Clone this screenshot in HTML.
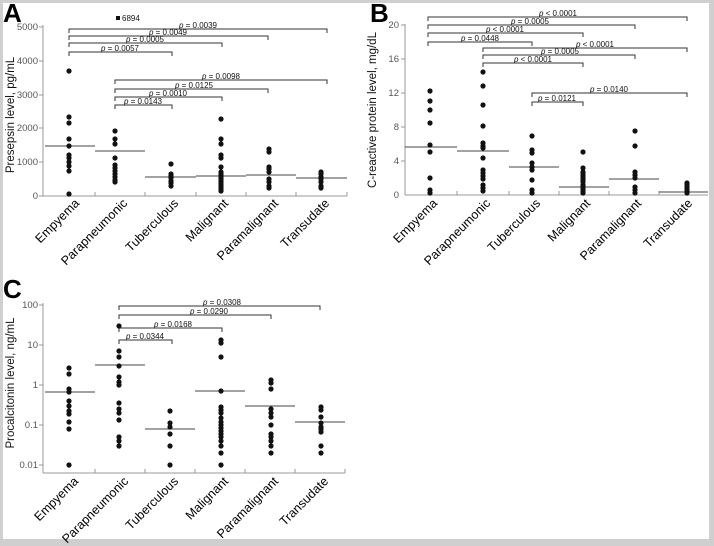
<!DOCTYPE html>
<html><head><meta charset="utf-8"><style>
html,body{margin:0;padding:0;background:#cfcfcf;}
svg{display:block;}
text{font-family:"Liberation Sans",sans-serif;}
.t{font-size:9.5px;fill:#555;}
.c{font-size:12.5px;fill:#000;}
.p{font-size:8px;fill:#111;text-anchor:middle;}
.yl{font-size:11.5px;fill:#111;text-anchor:middle;}
.L{font-size:26px;font-weight:bold;fill:#000;}
</style></head><body>
<svg width="714" height="546" viewBox="0 0 714 546" xmlns="http://www.w3.org/2000/svg">
<rect x="0" y="0" width="714" height="546" fill="#cfcfcf"/>
<rect x="3" y="3" width="706" height="536" fill="#fff"/>

<!-- ============ PANEL A ============ -->
<text class="L" x="3" y="22">A</text>
<g stroke="#999" stroke-width="1" fill="none">
<line x1="43" y1="25" x2="43" y2="196"/>
<line x1="43" y1="196" x2="347" y2="196"/>
<line x1="39" y1="27" x2="43" y2="27"/><line x1="39" y1="61" x2="43" y2="61"/><line x1="39" y1="95" x2="43" y2="95"/><line x1="39" y1="128" x2="43" y2="128"/><line x1="39" y1="162" x2="43" y2="162"/><line x1="39" y1="196" x2="43" y2="196"/>
<line x1="95" y1="192" x2="95" y2="196"/><line x1="145" y1="192" x2="145" y2="196"/><line x1="196" y1="192" x2="196" y2="196"/><line x1="246" y1="192" x2="246" y2="196"/><line x1="296" y1="192" x2="296" y2="196"/><line x1="347" y1="192" x2="347" y2="196"/>
</g>
<g class="t" text-anchor="end">
<text x="38" y="30">5000</text><text x="38" y="64">4000</text><text x="38" y="98">3000</text><text x="38" y="131">2000</text><text x="38" y="165">1000</text><text x="38" y="199">0</text>
</g>
<text class="yl" transform="translate(14,115) rotate(-90)">Presepsin level, pg/mL</text>
<g stroke="#333" stroke-width="1" fill="none">
<polyline points="69,33 69,29 327,29 327,33"/>
<polyline points="69,40 69,36 268,36 268,40"/>
<polyline points="69,47 69,43 222,43 222,47"/>
<polyline points="69,56 69,52 172,52 172,56"/>
<polyline points="115,84 115,80 327,80 327,84"/>
<polyline points="115,93 115,89 268,89 268,93"/>
<polyline points="115,101 115,97 222,97 222,101"/>
<polyline points="115,109 115,105 172,105 172,109"/>
</g>
<g class="p">
<text x="198" y="28"><tspan font-style="italic">p</tspan> = 0.0039</text>
<text x="168" y="35"><tspan font-style="italic">p</tspan> = 0.0049</text>
<text x="145" y="42"><tspan font-style="italic">p</tspan> = 0.0005</text>
<text x="120" y="51"><tspan font-style="italic">p</tspan> = 0.0057</text>
<text x="221" y="79"><tspan font-style="italic">p</tspan> = 0.0098</text>
<text x="194" y="88"><tspan font-style="italic">p</tspan> = 0.0125</text>
<text x="168" y="96"><tspan font-style="italic">p</tspan> = 0.0010</text>
<text x="143" y="104"><tspan font-style="italic">p</tspan> = 0.0143</text>
</g>
<rect x="116" y="16" width="4" height="4" fill="#111"/>
<text x="122" y="21" style="font-size:8px;fill:#111">6894</text>
<g stroke="#444" stroke-width="1">
<line x1="45" y1="146" x2="95" y2="146"/><line x1="95" y1="151" x2="145" y2="151"/><line x1="145" y1="177" x2="196" y2="177"/><line x1="196" y1="176" x2="246" y2="176"/><line x1="246" y1="175" x2="296" y2="175"/><line x1="296" y1="178" x2="347" y2="178"/>
</g>
<g fill="#111">
<circle cx="69" cy="71" r="2.6"/><circle cx="69" cy="117" r="2.6"/><circle cx="69" cy="123" r="2.6"/><circle cx="69" cy="139" r="2.6"/><circle cx="69" cy="146" r="2.6"/><circle cx="69" cy="155" r="2.6"/><circle cx="69" cy="158" r="2.6"/><circle cx="69" cy="162" r="2.6"/><circle cx="69" cy="166" r="2.6"/><circle cx="69" cy="171" r="2.6"/><circle cx="69" cy="194" r="2.6"/>
<circle cx="115" cy="131" r="2.6"/><circle cx="115" cy="139" r="2.6"/><circle cx="115" cy="144" r="2.6"/><circle cx="115" cy="158" r="2.6"/><circle cx="115" cy="165" r="2.6"/><circle cx="115" cy="168" r="2.6"/><circle cx="115" cy="171" r="2.6"/><circle cx="115" cy="174" r="2.6"/><circle cx="115" cy="177" r="2.6"/><circle cx="115" cy="180" r="2.6"/><circle cx="115" cy="182" r="2.6"/>
<circle cx="171" cy="164" r="2.6"/><circle cx="171" cy="174" r="2.6"/><circle cx="171" cy="176" r="2.6"/><circle cx="171" cy="178" r="2.6"/><circle cx="171" cy="181" r="2.6"/><circle cx="171" cy="183" r="2.6"/><circle cx="171" cy="186" r="2.6"/>
<circle cx="221" cy="119" r="2.6"/><circle cx="221" cy="139" r="2.6"/><circle cx="221" cy="144" r="2.6"/><circle cx="221" cy="155" r="2.6"/><circle cx="221" cy="158" r="2.6"/><circle cx="221" cy="167" r="2.6"/><circle cx="221" cy="172" r="2.6"/><circle cx="221" cy="174" r="2.6"/><circle cx="221" cy="176" r="2.6"/><circle cx="221" cy="178" r="2.6"/><circle cx="221" cy="180" r="2.6"/><circle cx="221" cy="182" r="2.6"/><circle cx="221" cy="184" r="2.6"/><circle cx="221" cy="186" r="2.6"/><circle cx="221" cy="188" r="2.6"/><circle cx="221" cy="190" r="2.6"/><circle cx="221" cy="191" r="2.6"/>
<circle cx="269" cy="149" r="2.6"/><circle cx="269" cy="152" r="2.6"/><circle cx="269" cy="167" r="2.6"/><circle cx="269" cy="169" r="2.6"/><circle cx="269" cy="172" r="2.6"/><circle cx="269" cy="179" r="2.6"/><circle cx="269" cy="182" r="2.6"/><circle cx="269" cy="186" r="2.6"/><circle cx="269" cy="188" r="2.6"/>
<circle cx="321" cy="172" r="2.6"/><circle cx="321" cy="174" r="2.6"/><circle cx="321" cy="177" r="2.6"/><circle cx="321" cy="179" r="2.6"/><circle cx="321" cy="182" r="2.6"/><circle cx="321" cy="186" r="2.6"/><circle cx="321" cy="188" r="2.6"/>
</g>
<g class="c" text-anchor="end">
<text transform="translate(80,204) rotate(-45)">Empyema</text>
<text transform="translate(128,204) rotate(-45)">Parapneumonic</text>
<text transform="translate(179,204) rotate(-45)">Tuberculous</text>
<text transform="translate(229,204) rotate(-45)">Malignant</text>
<text transform="translate(279,204) rotate(-45)">Paramalignant</text>
<text transform="translate(330,204) rotate(-45)">Transudate</text>
</g>

<!-- ============ PANEL B ============ -->
<text class="L" x="370" y="22">B</text>
<g stroke="#999" stroke-width="1" fill="none">
<line x1="405" y1="24" x2="405" y2="195"/>
<line x1="405" y1="195" x2="708" y2="195"/>
<line x1="401" y1="25" x2="405" y2="25"/><line x1="401" y1="59" x2="405" y2="59"/><line x1="401" y1="93" x2="405" y2="93"/><line x1="401" y1="127" x2="405" y2="127"/><line x1="401" y1="161" x2="405" y2="161"/>
<line x1="457" y1="191" x2="457" y2="195"/><line x1="509" y1="191" x2="509" y2="195"/><line x1="559" y1="191" x2="559" y2="195"/><line x1="609" y1="191" x2="609" y2="195"/><line x1="659" y1="191" x2="659" y2="195"/>
</g>
<g class="t" text-anchor="end">
<text x="399" y="28">20</text><text x="399" y="62">16</text><text x="399" y="96">12</text><text x="399" y="130">8</text><text x="399" y="164">4</text><text x="399" y="198">0</text>
</g>
<text class="yl" transform="translate(376,110) rotate(-90)">C-reactive protein  level, mg/dL</text>
<g stroke="#333" stroke-width="1" fill="none">
<polyline points="428,21 428,17 687,17 687,21"/>
<polyline points="428,29 428,25 635,25 635,29"/>
<polyline points="428,37 428,33 583,33 583,37"/>
<polyline points="428,46 428,42 532,42 532,46"/>
<polyline points="483,52 483,48 687,48 687,52"/>
<polyline points="483,59 483,55 635,55 635,59"/>
<polyline points="483,67 483,63 583,63 583,67"/>
<polyline points="532,97 532,93 687,93 687,97"/>
<polyline points="532,106 532,102 583,102 583,106"/>
</g>
<g class="p">
<text x="558" y="16"><tspan font-style="italic">p</tspan> &lt; 0.0001</text>
<text x="530" y="24"><tspan font-style="italic">p</tspan> = 0.0005</text>
<text x="505" y="32"><tspan font-style="italic">p</tspan> &lt; 0.0001</text>
<text x="480" y="41"><tspan font-style="italic">p</tspan> = 0.0448</text>
<text x="595" y="47"><tspan font-style="italic">p</tspan> &lt; 0.0001</text>
<text x="560" y="54"><tspan font-style="italic">p</tspan> = 0.0005</text>
<text x="533" y="62"><tspan font-style="italic">p</tspan> &lt; 0.0001</text>
<text x="609" y="92"><tspan font-style="italic">p</tspan> = 0.0140</text>
<text x="557" y="101"><tspan font-style="italic">p</tspan> = 0.0121</text>
</g>
<g stroke="#444" stroke-width="1">
<line x1="405" y1="147" x2="457" y2="147"/><line x1="457" y1="151" x2="509" y2="151"/><line x1="509" y1="167" x2="559" y2="167"/><line x1="559" y1="187" x2="609" y2="187"/><line x1="609" y1="179" x2="659" y2="179"/><line x1="659" y1="192" x2="708" y2="192"/>
</g>
<g fill="#111">
<circle cx="430" cy="91" r="2.6"/><circle cx="430" cy="101" r="2.6"/><circle cx="430" cy="110" r="2.6"/><circle cx="430" cy="123" r="2.6"/><circle cx="430" cy="145" r="2.6"/><circle cx="430" cy="152" r="2.6"/><circle cx="430" cy="178" r="2.6"/><circle cx="430" cy="190" r="2.6"/><circle cx="430" cy="193" r="2.6"/>
<circle cx="483" cy="72" r="2.6"/><circle cx="483" cy="86" r="2.6"/><circle cx="483" cy="105" r="2.6"/><circle cx="483" cy="126" r="2.6"/><circle cx="483" cy="143" r="2.6"/><circle cx="483" cy="146" r="2.6"/><circle cx="483" cy="148" r="2.6"/><circle cx="483" cy="158" r="2.6"/><circle cx="483" cy="170" r="2.6"/><circle cx="483" cy="173" r="2.6"/><circle cx="483" cy="176" r="2.6"/><circle cx="483" cy="179" r="2.6"/><circle cx="483" cy="185" r="2.6"/><circle cx="483" cy="188" r="2.6"/><circle cx="483" cy="191" r="2.6"/>
<circle cx="532" cy="136" r="2.6"/><circle cx="532" cy="150" r="2.6"/><circle cx="532" cy="153" r="2.6"/><circle cx="532" cy="163" r="2.6"/><circle cx="532" cy="167" r="2.6"/><circle cx="532" cy="170" r="2.6"/><circle cx="532" cy="180" r="2.6"/><circle cx="532" cy="190" r="2.6"/><circle cx="532" cy="193" r="2.6"/>
<circle cx="583" cy="152" r="2.6"/><circle cx="583" cy="168" r="2.6"/><circle cx="583" cy="172" r="2.6"/><circle cx="583" cy="174" r="2.6"/><circle cx="583" cy="176" r="2.6"/><circle cx="583" cy="178" r="2.6"/><circle cx="583" cy="180" r="2.6"/><circle cx="583" cy="182" r="2.6"/><circle cx="583" cy="185" r="2.6"/><circle cx="583" cy="187" r="2.6"/><circle cx="583" cy="189" r="2.6"/><circle cx="583" cy="191" r="2.6"/><circle cx="583" cy="193" r="2.6"/>
<circle cx="635" cy="131" r="2.6"/><circle cx="635" cy="146" r="2.6"/><circle cx="635" cy="172" r="2.6"/><circle cx="635" cy="175" r="2.6"/><circle cx="635" cy="178" r="2.6"/><circle cx="635" cy="187" r="2.6"/><circle cx="635" cy="190" r="2.6"/><circle cx="635" cy="193" r="2.6"/>
<circle cx="687" cy="183" r="2.6"/><circle cx="687" cy="185" r="2.6"/><circle cx="687" cy="187" r="2.6"/><circle cx="687" cy="189" r="2.6"/><circle cx="687" cy="191" r="2.6"/><circle cx="687" cy="193" r="2.6"/>
</g>
<g class="c" text-anchor="end">
<text transform="translate(438,204) rotate(-45)">Empyema</text>
<text transform="translate(491,204) rotate(-45)">Parapneumonic</text>
<text transform="translate(541,204) rotate(-45)">Tuberculous</text>
<text transform="translate(591,204) rotate(-45)">Malignant</text>
<text transform="translate(642,204) rotate(-45)">Paramalignant</text>
<text transform="translate(693,204) rotate(-45)">Transudate</text>
</g>

<!-- ============ PANEL C ============ -->
<text class="L" x="3" y="298">C</text>
<g stroke="#999" stroke-width="1" fill="none">
<line x1="43" y1="303" x2="43" y2="473"/>
<line x1="43" y1="473" x2="345" y2="473"/>
<line x1="39" y1="305" x2="43" y2="305"/><line x1="39" y1="345" x2="43" y2="345"/><line x1="39" y1="385" x2="43" y2="385"/><line x1="39" y1="425" x2="43" y2="425"/><line x1="39" y1="465" x2="43" y2="465"/>
<line x1="95" y1="469" x2="95" y2="473"/><line x1="145" y1="469" x2="145" y2="473"/><line x1="195" y1="469" x2="195" y2="473"/><line x1="245" y1="469" x2="245" y2="473"/><line x1="295" y1="469" x2="295" y2="473"/><line x1="345" y1="469" x2="345" y2="473"/>
</g>
<g class="t" text-anchor="end">
<text x="38" y="308">100</text><text x="38" y="348">10</text><text x="38" y="388">1</text><text x="38" y="428">0.1</text><text x="38" y="468">0.01</text>
</g>
<text class="yl" transform="translate(14,383) rotate(-90)">Procalcitonin level, ng/mL</text>
<g stroke="#333" stroke-width="1" fill="none">
<polyline points="119,310 119,306 320,306 320,310"/>
<polyline points="119,319 119,315 271,315 271,319"/>
<polyline points="119,332 119,328 222,328 222,332"/>
<polyline points="119,344 119,340 172,340 172,344"/>
</g>
<g class="p">
<text x="222" y="305"><tspan font-style="italic">p</tspan> = 0.0308</text>
<text x="209" y="314"><tspan font-style="italic">p</tspan> = 0.0290</text>
<text x="173" y="327"><tspan font-style="italic">p</tspan> = 0.0168</text>
<text x="145" y="339"><tspan font-style="italic">p</tspan> = 0.0344</text>
</g>
<g stroke="#444" stroke-width="1">
<line x1="45" y1="392" x2="95" y2="392"/><line x1="95" y1="365" x2="145" y2="365"/><line x1="145" y1="429" x2="195" y2="429"/><line x1="195" y1="391" x2="245" y2="391"/><line x1="245" y1="406" x2="295" y2="406"/><line x1="295" y1="422" x2="345" y2="422"/>
</g>
<g fill="#111">
<circle cx="69" cy="368" r="2.6"/><circle cx="69" cy="374" r="2.6"/><circle cx="69" cy="389" r="2.6"/><circle cx="69" cy="392" r="2.6"/><circle cx="69" cy="401" r="2.6"/><circle cx="69" cy="406" r="2.6"/><circle cx="69" cy="411" r="2.6"/><circle cx="69" cy="414" r="2.6"/><circle cx="69" cy="422" r="2.6"/><circle cx="69" cy="429" r="2.6"/><circle cx="69" cy="465" r="2.6"/>
<circle cx="119" cy="326" r="2.6"/><circle cx="119" cy="351" r="2.6"/><circle cx="119" cy="357" r="2.6"/><circle cx="119" cy="366" r="2.6"/><circle cx="119" cy="377" r="2.6"/><circle cx="119" cy="382" r="2.6"/><circle cx="119" cy="385" r="2.6"/><circle cx="119" cy="403" r="2.6"/><circle cx="119" cy="409" r="2.6"/><circle cx="119" cy="413" r="2.6"/><circle cx="119" cy="420" r="2.6"/><circle cx="119" cy="437" r="2.6"/><circle cx="119" cy="441" r="2.6"/><circle cx="119" cy="446" r="2.6"/>
<circle cx="170" cy="411" r="2.6"/><circle cx="170" cy="423" r="2.6"/><circle cx="170" cy="427" r="2.6"/><circle cx="170" cy="434" r="2.6"/><circle cx="170" cy="446" r="2.6"/><circle cx="170" cy="465" r="2.6"/>
<circle cx="221" cy="340" r="2.6"/><circle cx="221" cy="343" r="2.6"/><circle cx="221" cy="357" r="2.6"/><circle cx="221" cy="391" r="2.6"/><circle cx="221" cy="407" r="2.6"/><circle cx="221" cy="410" r="2.6"/><circle cx="221" cy="413" r="2.6"/><circle cx="221" cy="418" r="2.6"/><circle cx="221" cy="422" r="2.6"/><circle cx="221" cy="425" r="2.6"/><circle cx="221" cy="428" r="2.6"/><circle cx="221" cy="431" r="2.6"/><circle cx="221" cy="434" r="2.6"/><circle cx="221" cy="437" r="2.6"/><circle cx="221" cy="441" r="2.6"/><circle cx="221" cy="446" r="2.6"/><circle cx="221" cy="453" r="2.6"/><circle cx="221" cy="465" r="2.6"/>
<circle cx="271" cy="380" r="2.6"/><circle cx="271" cy="383" r="2.6"/><circle cx="271" cy="389" r="2.6"/><circle cx="271" cy="409" r="2.6"/><circle cx="271" cy="413" r="2.6"/><circle cx="271" cy="417" r="2.6"/><circle cx="271" cy="425" r="2.6"/><circle cx="271" cy="434" r="2.6"/><circle cx="271" cy="437" r="2.6"/><circle cx="271" cy="441" r="2.6"/><circle cx="271" cy="446" r="2.6"/><circle cx="271" cy="453" r="2.6"/>
<circle cx="321" cy="407" r="2.6"/><circle cx="321" cy="410" r="2.6"/><circle cx="321" cy="417" r="2.6"/><circle cx="321" cy="423" r="2.6"/><circle cx="321" cy="427" r="2.6"/><circle cx="321" cy="429" r="2.6"/><circle cx="321" cy="432" r="2.6"/><circle cx="321" cy="446" r="2.6"/><circle cx="321" cy="453" r="2.6"/>
</g>
<g class="c" text-anchor="end">
<text transform="translate(79,482) rotate(-45)">Empyema</text>
<text transform="translate(129,482) rotate(-45)">Parapneumonic</text>
<text transform="translate(179,482) rotate(-45)">Tuberculous</text>
<text transform="translate(229,482) rotate(-45)">Malignant</text>
<text transform="translate(279,482) rotate(-45)">Paramalignant</text>
<text transform="translate(329,482) rotate(-45)">Transudate</text>
</g>
</svg>
</body></html>
